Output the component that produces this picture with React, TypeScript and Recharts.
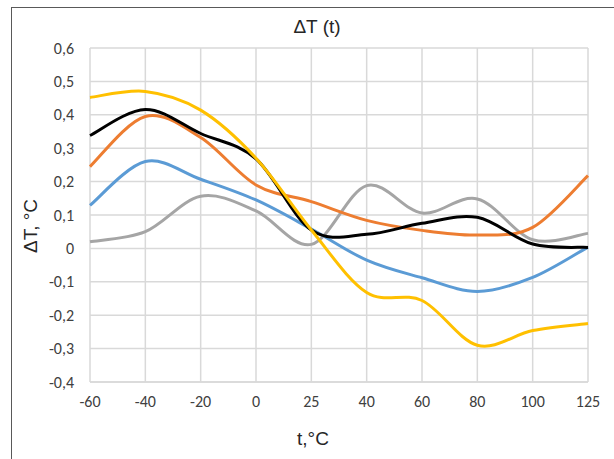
import { LineChart, Line, XAxis, YAxis, CartesianGrid } from 'recharts'

const temps = ['-60', '-40', '-20', '0', '25', '40', '60', '80', '100', '125']
const blackSeries = [0.338, 0.416, 0.344, 0.268, 0.055, 0.042, 0.075, 0.093, 0.013, 0.003]
const orangeSeries = [0.245, 0.395, 0.332, 0.19, 0.14, 0.084, 0.054, 0.04, 0.063, 0.218]
const blueSeries = [0.129, 0.26, 0.207, 0.145, 0.058, -0.035, -0.088, -0.129, -0.087, 0.004]
const graySeries = [0.02, 0.05, 0.156, 0.112, 0.012, 0.188, 0.106, 0.148, 0.026, 0.045]
const yellowSeries = [0.452, 0.47, 0.414, 0.27, 0.055, -0.132, -0.156, -0.29, -0.246, -0.225]
const yTicks = [-0.4, -0.3, -0.2, -0.1, 0, 0.1, 0.2, 0.3, 0.4, 0.5, 0.6]

const data = temps.map((t, i) => ({
  t,
  black: blackSeries[i],
  orange: orangeSeries[i],
  blue: blueSeries[i],
  gray: graySeries[i],
  yellow: yellowSeries[i],
}))

// Excel-like smoothing (Catmull-Rom through the points)
function smoothCurve(context: any) {
  let pts: number[][] = []
  return {
    areaStart() {},
    areaEnd() {},
    lineStart() {
      pts = []
    },
    point(x: number, y: number) {
      pts.push([+x, +y])
    },
    lineEnd() {
      if (!pts.length) return
      context.moveTo(pts[0][0], pts[0][1])
      const k = 1 / 6
      for (let i = 0; i < pts.length - 1; i++) {
        const p0 = pts[i - 1] || pts[i]
        const p1 = pts[i]
        const p2 = pts[i + 1]
        const p3 = pts[i + 2] || p2
        context.bezierCurveTo(
          p1[0] + (p2[0] - p0[0]) * k,
          p1[1] + (p2[1] - p0[1]) * k,
          p2[0] - (p3[0] - p1[0]) * k,
          p2[1] - (p3[1] - p1[1]) * k,
          p2[0],
          p2[1],
        )
      }
    },
  }
}

const fmt = (v: number) => (v === 0 ? '0' : v.toFixed(1).replace('.', ','))
const tickFont = "Carlito, Calibri, 'Open Sans', sans-serif"
const labelFont = "'Liberation Sans', Arial, sans-serif"

const series = [
  { key: 'gray', color: '#A5A5A5' },
  { key: 'blue', color: '#5B9BD5' },
  { key: 'orange', color: '#ED7D31' },
  { key: 'black', color: '#000000' },
  { key: 'yellow', color: '#FFC000' },
]

const labelStyle = { position: 'absolute' as const, fontSize: 19, color: '#262626', whiteSpace: 'nowrap' as const, fontFamily: labelFont }

export default function App() {
  return (
    <div style={{ position: 'absolute', left: 0, top: 0, width: 614, height: 459, background: '#fff', overflow: 'hidden' }}>
      {/* рамка */}
      <div style={{ position: 'absolute', left: 11, top: 7, width: 640, height: 500, borderLeft: '1px solid #595959', borderTop: '1px solid #595959' }} />
      <div style={{ ...labelStyle, left: 317, top: 27, transform: 'translate(-50%, -50%)' }}>ΔT (t)</div>
      <div style={{ ...labelStyle, left: 31, top: 226, transform: 'translate(-50%, -50%) rotate(-90deg)' }}>ΔT, °C</div>
      <div style={{ ...labelStyle, left: 313, top: 439, transform: 'translate(-50%, -50%)' }}>t,°C</div>
      <LineChart width={614} height={459} data={data} margin={{ top: 48, right: 26, bottom: 47, left: 40 }}>
        <CartesianGrid stroke="#D9D9D9" strokeWidth={1.5} />
        <XAxis
          dataKey="t"
          tick={{ fill: '#404040', fontSize: 16, fontFamily: tickFont }}
          axisLine={{ stroke: '#D9D9D9', strokeWidth: 1.5 }}
          tickLine={false}
          tickMargin={8}
          interval={0}
        />
        <YAxis
          domain={[-0.4, 0.6]}
          ticks={yTicks}
          tickFormatter={fmt}
          tick={{ fill: '#404040', fontSize: 16, fontFamily: tickFont }}
          axisLine={false}
          tickLine={false}
          width={50}
          tickMargin={10}
        />
        {series.map((s) => (
          <Line
            key={s.key}
            dataKey={s.key}
            type={smoothCurve as any}
            stroke={s.color}
            strokeWidth={3}
            dot={false}
            activeDot={false}
            isAnimationActive={false}
          />
        ))}
      </LineChart>
    </div>
  )
}
